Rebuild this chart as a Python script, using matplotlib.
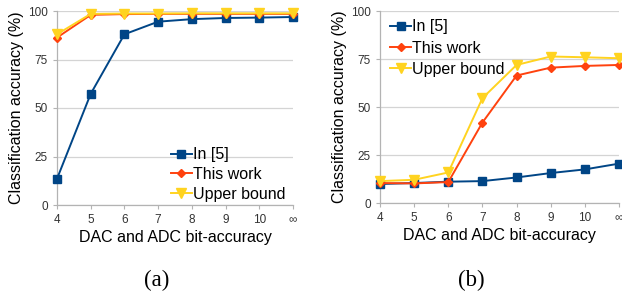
import matplotlib
matplotlib.use("Agg")
import matplotlib.pyplot as plt

plt.rcParams['font.family'] = ['Liberation Sans', 'DejaVu Sans']

bits = ["4", "5", "6", "7", "8", "9", "10", "\u221e"]
yticks = [0, 25, 50, 75, 100]

a_in5 = [13.5, 57.3, 88.0, 94.5, 95.8, 96.4, 96.6, 96.9]
a_this = [86.3, 98.0, 98.4, 98.5, 98.5, 98.5, 98.5, 98.5]
a_upper = [88.0, 98.5, 98.7, 98.7, 98.8, 98.8, 98.8, 98.8]

b_in5 = [9.9, 10.4, 11.1, 11.4, 13.3, 15.6, 17.5, 20.5]
b_this = [10.4, 10.2, 10.9, 41.9, 66.4, 70.5, 71.4, 71.9]
b_upper = [11.4, 12.1, 15.9, 54.6, 71.9, 76.3, 75.9, 75.4]

labels = ["In [5]", "This work", "Upper bound"]
colors = ["#004586", "#ff420e", "#ffd320"]
markers = ["s", "D", "v"]
msizes = [5.5, 4.5, 6.5]

fig = plt.figure(figsize=(6.22, 2.93), dpi=100)
axA = fig.add_axes([57/622, 1-205/293, (293-57)/622, 194/293])
axB = fig.add_axes([380/622, 1-203/293, (619-380)/622, 192/293])

def draw(ax, series, legend_loc, bbox, spacing):
    x = list(range(len(bits)))
    for vals, lab, c, m, ms in zip(series, labels, colors, markers, msizes):
        ax.plot(x, vals, color=c, marker=m, markersize=ms, linewidth=1.4,
                label=lab, clip_on=False, zorder=3)
    ax.set_xlim(0, len(bits) - 1)
    ax.set_ylim(0, 100)
    ax.set_xticks(x)
    ax.set_xticklabels(bits)
    ax.set_yticks(yticks)
    ax.grid(axis='y', color='#d4d4d4', linewidth=0.9)
    ax.set_axisbelow(True)
    for s in ['top', 'right']:
        ax.spines[s].set_visible(False)
    for s in ['left', 'bottom']:
        ax.spines[s].set_color('#b3b3b3')
        ax.spines[s].set_linewidth(0.9)
    ax.tick_params(axis='both', labelsize=8.5, colors='#b3b3b3', labelcolor='#333333',
                   length=3, width=0.8)
    ax.set_xlabel("DAC and ADC bit-accuracy", fontsize=11.5, labelpad=3)
    ax.set_ylabel("Classification accuracy (%)", fontsize=11.5, labelpad=3)
    ax.legend(loc=legend_loc, bbox_to_anchor=bbox, frameon=False, fontsize=11.5,
              handlelength=1.3, handletextpad=0.1, labelspacing=spacing,
              borderaxespad=0.0, borderpad=0.2)

draw(axA, [a_in5, a_this, a_upper], 'lower right', (0.983, 0.0), 0.3)
draw(axB, [b_in5, b_this, b_upper], 'upper left', (0.029, 0.974), 0.4)

fig.text(157/622, 1-280/293, "(a)", ha='center', va='center', fontsize=16.5,
         family='Liberation Serif')
fig.text(471/622, 1-280/293, "(b)", ha='center', va='center', fontsize=16.5,
         family='Liberation Serif')

fig.savefig("out.png", dpi=100)
